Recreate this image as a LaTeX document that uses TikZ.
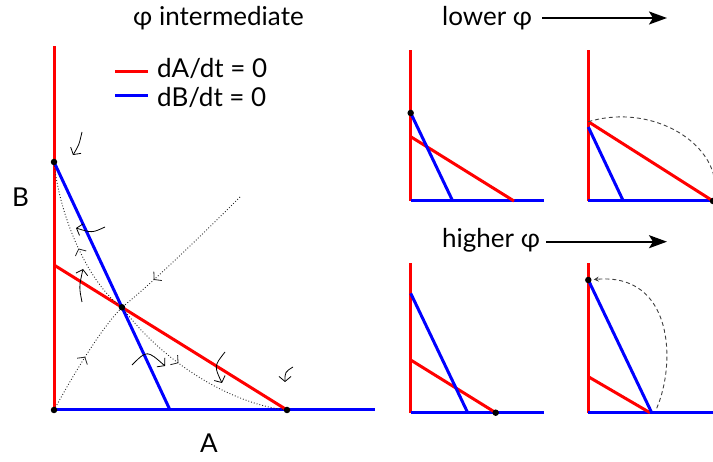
\documentclass[tikz,border=0pt]{standalone}
\usepackage{fontspec}
\setmainfont{Lato}
\usetikzlibrary{arrows.meta,decorations.markings}

\begin{document}
\begin{tikzpicture}[x=1pt,y=-1pt,
nullA/.style={red, line width=3pt},
nullB/.style={blue, line width=3pt},
fixpt/.style={circle, fill=black, inner sep=0pt, minimum size=6.5pt},
flow/.style={black!85, line width=0.9pt, dash pattern=on 0.9pt off 2pt},
tipat/.style={postaction={decorate, decoration={markings,
  mark=at position #1 with {\arrow[solid, line width=0.8pt]{Straight Barb[length=5pt,width=12pt]}}}}},
nudge/.style={line width=0.8pt, -{Straight Barb[length=5pt,width=12pt]}},
trail/.style={black!75, line width=0.9pt, dash pattern=on 4pt off 3pt},
lbl/.style={font=\fontsize{26}{30}\selectfont, inner sep=0pt},
phiarrow/.style={line width=2pt, -{Stealth[length=18pt,width=13pt,inset=4pt]}}
]
\useasboundingbox (0,0) rectangle (713,462);

% Main phase plane, phi intermediate
\coordinate (O) at (54,410);
\coordinate (Btop) at (54,46);
\coordinate (Aend) at (375,410);
\coordinate (Bs) at (54,162);
\coordinate (Bb) at (170,410);
\coordinate (Ra) at (54,265);
\coordinate (As) at (287,410);
\coordinate (Sep) at (240,197);
\coordinate (S) at (intersection of Ra--As and Bs--Bb);

% Draw the nullclines
\draw[nullA] (O) -- (Btop);
\draw[nullB] (O) -- (Aend);
\draw[nullA] (Ra) -- (As);
\draw[nullB] (Bs) -- (Bb);

% Separatrices through the saddle
\draw[flow, tipat=0.5] (O) .. controls (75,372) and (100,330) .. (S);
\draw[flow, tipat=0.74] (Sep) .. controls (200,237) and (150,285) .. (S);
\draw[flow, tipat=0.45] (S) .. controls (90,285) and (60,220) .. (Bs);
\draw[flow, tipat=0.4] (S) .. controls (165,365) and (235,405) .. (As);

% Fixed points
\node[fixpt] (Odot) at (O) {};
\node[fixpt] (Bsdot) at (Bs) {};
\node[fixpt] (Asdot) at (As) {};
\node[fixpt] (Sdot) at (S) {};

% Small arrows for the direction of flow
\draw[nudge] (82,132) .. controls (79,145) .. (73,155);
\draw[nudge] (105,227) .. controls (92,233) .. (76,228);
\draw[nudge] (82,302) .. controls (79,287) .. (83,269);
\draw[nudge] (132,365) .. controls (147,350) .. (165,366);
\draw[nudge] (225,352) .. controls (214,366) .. (222,383);
\draw[nudge] (293,367) .. controls (285,372) .. (285,382);

% Labels and key
\node[lbl, anchor=base west] (title) at (133,26) {φ intermediate};
\node[lbl, anchor=base west] (Blbl) at (12,207) {B};
\node[lbl, anchor=base west] (Albl) at (200,453) {A};
\draw[nullA] (115,71.5) -- (148,71.5);
\draw[nullB] (115,96) -- (148,96);
\node[lbl, anchor=base west] (keyA) at (157,78) {dA/dt = 0};
\node[lbl, anchor=base west] (keyB) at (157,106.5) {dB/dt = 0};

% lower phi
\node[lbl, anchor=base west] (lowLbl) at (442,26) {lower φ};
\coordinate (lowEnd) at (667,18);
\draw[phiarrow, shorten <=10pt] (lowLbl.east |- lowEnd) -- (lowEnd);

\begin{scope}[shift={(410.7,201)}]
\coordinate (l1o) at (0,0);
\coordinate (l1top) at (0,-151);
\coordinate (l1end) at (133,0);
\coordinate (l1B) at (0,-88);
\coordinate (l1Bb) at (42,0);
\coordinate (l1R) at (0,-64.3);
\coordinate (l1Ra) at (103.3,0);
\draw[nullA] (l1o) -- (l1top);
\draw[nullB] (l1o) -- (l1end);
\draw[nullA] (l1R) -- (l1Ra);
\draw[nullB] (l1B) -- (l1Bb);
\node[fixpt] (l1dot) at (l1B) {};
\end{scope}

\begin{scope}[shift={(588.3,201)}]
\coordinate (l2o) at (0,0);
\coordinate (l2top) at (0,-151);
\coordinate (l2end) at (133,0);
\coordinate (l2B) at (0,-74);
\coordinate (l2Bb) at (35,0);
\coordinate (l2R) at (0,-79.3);
\coordinate (l2Ra) at (124.7,0);
\draw[nullA] (l2o) -- (l2top);
\draw[nullB] (l2o) -- (l2end);
\draw[nullA] (l2R) -- (l2Ra);
\draw[nullB] (l2B) -- (l2Bb);
\draw[trail] (l2R) .. controls (70,-100) and (140,-50) .. (l2Ra);
\node[fixpt] (l2dot) at (l2Ra) {};
\end{scope}

% higher phi
\node[lbl, anchor=base west] (highLbl) at (442,248) {higher φ};
\coordinate (highEnd) at (667,241.7);
\draw[phiarrow, shorten <=6pt] (highLbl.east |- highEnd) -- (highEnd);

\begin{scope}[shift={(410.7,412.7)}]
\coordinate (h1o) at (0,0);
\coordinate (h1top) at (0,-150);
\coordinate (h1end) at (133,0);
\coordinate (h1B) at (0,-119.4);
\coordinate (h1Bb) at (57,0);
\coordinate (h1R) at (0,-52.7);
\coordinate (h1Ra) at (85,0);
\draw[nullA] (h1o) -- (h1top);
\draw[nullB] (h1o) -- (h1end);
\draw[nullA] (h1R) -- (h1Ra);
\draw[nullB] (h1B) -- (h1Bb);
\node[fixpt] (h1dot) at (h1Ra) {};
\end{scope}

\begin{scope}[shift={(588.3,412.7)}]
\coordinate (h2o) at (0,0);
\coordinate (h2top) at (0,-150);
\coordinate (h2end) at (133,0);
\coordinate (h2B) at (0,-132.7);
\coordinate (h2Bb) at (63.4,0);
\coordinate (h2R) at (0,-36);
\coordinate (h2Ra) at (61.7,0);
\coordinate (h2start) at (68.4,-4.4);
\draw[nullA] (h2o) -- (h2top);
\draw[nullB] (h2o) -- (h2end);
\draw[nullA] (h2R) -- (h2Ra);
\draw[nullB] (h2B) -- (h2Bb);
\node[fixpt] (h2dot) at (h2B) {};
\draw[trail, -{Stealth[length=5pt,width=5pt]}, shorten >=2pt] (h2start) .. controls (88,-50) and (85,-140) .. (h2dot);
\end{scope}

\end{tikzpicture}
\end{document}
